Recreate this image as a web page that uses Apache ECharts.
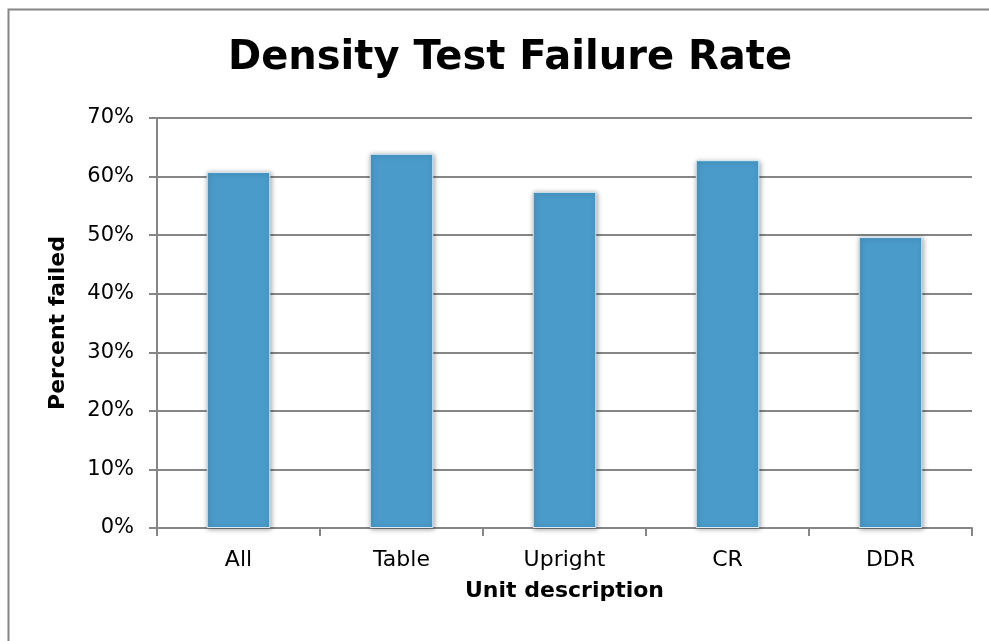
<!DOCTYPE html>
<html>
<head>
<meta charset="utf-8">
<script src="https://cdn.jsdelivr.net/npm/echarts@6/dist/echarts.min.js"></script>
<style>
  html, body { margin: 0; padding: 0; background: #fff; }
  #main { width: 989px; height: 641px; }
</style>
</head>
<body>
<div id="main"></div>
<script>
// data
const categories = ['All', 'Table', 'Upright', 'CR', 'DDR'];
const failRate = [60.8, 63.9, 57.4, 62.8, 49.7];
const yTicks = [0, 10, 20, 30, 40, 50, 60, 70];

const chart = echarts.init(document.getElementById('main'), null, { renderer: 'canvas' });

// the reference text is a bit wider than Arial, DejaVu fits its widths better
const font = '"DejaVu Sans", "Liberation Sans", Arial, sans-serif';
const axisGray = '#868686';

let option = {
  animation: false,
  backgroundColor: '#fff',
  textStyle: { fontFamily: font },
  title: {
    text: 'Density Test Failure Rate',
    left: 505,
    top: 34,
    textAlign: 'center',
    textStyle: { fontFamily: font, fontSize: 40, fontWeight: 'bold', color: '#000' },
  },
  // outer chart border
  graphic: [
    {
      type: 'rect',
      shape: { x: 8.5, y: 9.5, width: 1000, height: 700 },
      style: { fill: 'none', stroke: axisGray, lineWidth: 2 },
      silent: true,
    },
  ],
  grid: { left: 157, top: 118, right: 17, bottom: 113 },
  xAxis: {
    type: 'category',
    data: categories,
    name: 'Unit description',
    nameLocation: 'middle',
    nameGap: 52,
    nameTextStyle: { fontFamily: font, fontSize: 22, fontWeight: 'bold', color: '#000' },
    axisLine: { lineStyle: { color: axisGray, width: 2 } },
    axisTick: { show: true, length: 8, lineStyle: { color: axisGray, width: 2 } },
    axisLabel: { fontFamily: font, fontSize: 22, color: '#000', margin: 21 },
  },
  yAxis: {
    type: 'value',
    min: 0,
    max: yTicks[yTicks.length - 1],
    interval: 10,
    name: 'Percent failed',
    nameLocation: 'middle',
    nameGap: 88,
    nameTextStyle: { fontFamily: font, fontSize: 22, fontWeight: 'bold', color: '#000' },
    axisLine: { show: true, lineStyle: { color: axisGray, width: 2 } },
    axisTick: { show: true, length: 8, lineStyle: { color: axisGray, width: 2 } },
    axisLabel: { fontFamily: font, fontSize: 21, color: '#000', margin: 23, formatter: '{value}%' },
    splitLine: { lineStyle: { color: axisGray, width: 2 } },
  },
  series: [
    {
      type: 'bar',
      data: failRate,
      barWidth: '39%',
      itemStyle: {
        color: '#4a9bca',
        borderColor: '#dcebf5',
        borderWidth: 1,
        shadowBlur: 5,
        shadowColor: 'rgba(0,0,0,0.35)',
        shadowOffsetX: 1,
        shadowOffsetY: 1,
      },
    },
  ],
};

chart.setOption(option);
</script>
</body>
</html>
